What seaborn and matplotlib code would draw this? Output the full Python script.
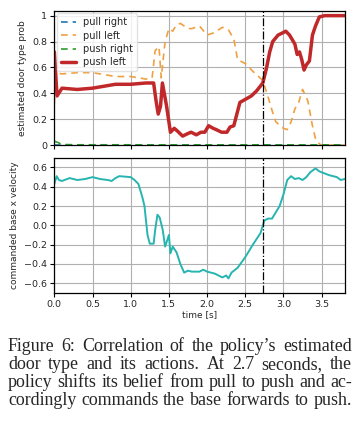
import numpy as np
import pandas as pd
import matplotlib
matplotlib.use("Agg")
import matplotlib.pyplot as plt
import seaborn as sns

# push left (red, solid)
t_push_left = [0.0, 0.035, 0.1, 0.3, 0.5, 0.7, 0.8, 1.0, 1.2, 1.3, 1.33, 1.36, 1.39, 1.415,
               1.47, 1.52, 1.57, 1.61, 1.68, 1.75, 1.79, 1.86, 1.92, 1.97, 2.02, 2.08, 2.12,
               2.19, 2.26, 2.3, 2.35, 2.39, 2.43, 2.49, 2.58, 2.65, 2.73, 2.78, 2.82, 2.86,
               2.93, 3.0, 3.03, 3.08, 3.15, 3.18, 3.21, 3.24, 3.27, 3.3, 3.34, 3.38, 3.42,
               3.47, 3.54, 3.8]
p_push_left = [0.72, 0.38, 0.44, 0.43, 0.44, 0.46, 0.47, 0.47, 0.48, 0.48, 0.35, 0.24, 0.3, 0.48,
               0.3, 0.1, 0.13, 0.11, 0.07, 0.09, 0.1, 0.08, 0.1, 0.1, 0.15, 0.13, 0.12,
               0.1, 0.1, 0.14, 0.15, 0.24, 0.33, 0.35, 0.38, 0.42, 0.48, 0.6, 0.72, 0.8,
               0.85, 0.87, 0.88, 0.85, 0.78, 0.7, 0.72, 0.66, 0.58, 0.62, 0.65, 0.85, 0.92,
               0.99, 1.0, 1.0]

# pull left (orange, dashed)
t_pull_left = [0.0, 0.02, 0.1, 0.3, 0.5, 0.7, 0.8, 1.0, 1.2, 1.28, 1.32, 1.37, 1.4, 1.45,
               1.5, 1.55, 1.6, 1.65, 1.75, 1.8, 1.9, 2.0, 2.1, 2.2, 2.28, 2.35, 2.4, 2.5,
               2.6, 2.73, 2.8, 2.85, 2.9, 3.0, 3.05, 3.1, 3.15, 3.2, 3.25, 3.3, 3.32, 3.38,
               3.42, 3.47, 3.5, 3.8]
p_pull_left = [0.32, 0.56, 0.55, 0.56, 0.56, 0.54, 0.53, 0.53, 0.51, 0.52, 0.73, 0.76, 0.52, 0.8,
               0.9, 0.88, 0.93, 0.94, 0.9, 0.9, 0.92, 0.85, 0.87, 0.91, 0.89, 0.82, 0.66, 0.63,
               0.57, 0.5, 0.37, 0.27, 0.18, 0.13, 0.12, 0.18, 0.28, 0.33, 0.43, 0.37, 0.34, 0.15,
               0.05, 0.01, 0.0, 0.0]

# pull right / push right (near zero)
t_right = [0.0, 0.05, 0.1, 0.3, 3.8]
p_pull_right = [0.0, 0.0, 0.0, 0.0, 0.0]
p_push_right = [0.03, 0.02, 0.005, 0.003, 0.002]

# commanded base x velocity
t_vel = [0.0, 0.03, 0.06, 0.1, 0.2, 0.3, 0.4, 0.5, 0.6, 0.7, 0.75, 0.8, 0.85, 1.0, 1.05,
         1.1, 1.15, 1.18, 1.22, 1.25, 1.3, 1.32, 1.35, 1.38, 1.42, 1.45, 1.48, 1.5, 1.52,
         1.55, 1.6, 1.65, 1.7, 1.75, 1.8, 1.9, 1.95, 2.0, 2.1, 2.2, 2.25, 2.28, 2.32, 2.4,
         2.5, 2.6, 2.7, 2.75, 2.8, 2.85, 2.95, 3.0, 3.05, 3.1, 3.15, 3.2, 3.25, 3.3, 3.35,
         3.42, 3.47, 3.5, 3.6, 3.7, 3.75, 3.8]
v_base = [0.43, 0.51, 0.47, 0.46, 0.49, 0.47, 0.48, 0.5, 0.48, 0.47, 0.46, 0.49, 0.51, 0.5, 0.47,
          0.43, 0.3, 0.2, -0.1, -0.19, -0.19, -0.05, 0.11, 0.08, -0.05, -0.22, -0.15, -0.1, -0.29,
          -0.22, -0.28, -0.4, -0.49, -0.47, -0.48, -0.48, -0.46, -0.48, -0.5, -0.54, -0.52, -0.55, -0.49, -0.44,
          -0.33, -0.2, -0.08, 0.05, 0.07, 0.07, 0.2, 0.32, 0.47, 0.51, 0.48, 0.49, 0.47, 0.5, 0.55,
          0.59, 0.56, 0.55, 0.52, 0.5, 0.47, 0.48]

switch_time = 2.73

caption = [
    "Figure 6:  Correlation of the policy\u2019s estimated",
    "door type and its actions.  At 2.7 seconds, the",
    "policy shifts its belief from pull to push and ac-",
    "cordingly commands the base forwards to push.",
]

sns.set_style("whitegrid", {"grid.color": "#b0b0b0", "axes.edgecolor": "black",
                            "xtick.bottom": True, "ytick.left": True})
plt.rcParams["font.family"] = ["DejaVu Sans"]

fig = plt.figure(figsize=(3.6, 4.22), dpi=100)
ax1 = fig.add_axes([0.151, 0.656, 0.806, 0.318])
ax2 = fig.add_axes([0.151, 0.306, 0.806, 0.32])

sns.lineplot(x=t_right, y=p_pull_right, ax=ax1, color="#1f77b4", lw=1.2,
             linestyle=(0, (4, 3)), label="pull right")
sns.lineplot(x=t_pull_left, y=p_pull_left, ax=ax1, color="#f0a040", lw=1.2,
             linestyle=(0, (4, 3)), label="pull left")
sns.lineplot(x=t_right, y=p_push_right, ax=ax1, color="#2ca02c", lw=1.2,
             linestyle=(0, (4, 3)), label="push right")
sns.lineplot(x=t_push_left, y=p_push_left, ax=ax1, color="#c0282a", lw=2.5,
             label="push left")
ax1.axvline(switch_time, color="black", lw=0.9, linestyle="-.")
ax1.set_xlim(0, 3.8)
ax1.set_ylim(0, 1.036)
ax1.set_yticks([0, 0.2, 0.4, 0.6, 0.8, 1])
ax1.set_yticklabels(["0", "0.2", "0.4", "0.6", "0.8", "1"])
ax1.set_xticks(np.arange(0, 3.81, 0.5))
ax1.set_xticklabels([])
ax1.set_ylabel("estimated door type prob", fontsize=6.5)
leg = ax1.legend(loc="upper left", fontsize=7, handlelength=1.6, frameon=True,
                 borderaxespad=0.25, labelspacing=0.35, borderpad=0.4, handletextpad=0.7)
leg.get_frame().set_edgecolor("#dddddd")

sns.lineplot(x=t_vel, y=v_base, ax=ax2, color="#26b5b0", lw=1.4)
ax2.axvline(switch_time, color="black", lw=0.9, linestyle="-.")
ax2.set_xlim(0, 3.8)
ax2.set_ylim(-0.7, 0.7)
ax2.set_yticks([-0.6, -0.4, -0.2, 0.0, 0.2, 0.4, 0.6])
ax2.set_xticks(np.arange(0, 3.81, 0.5))
ax2.yaxis.set_major_formatter(matplotlib.ticker.StrMethodFormatter("{x:.1f}"))
ax2.set_ylabel("commanded base x velocity", fontsize=6.5)
ax2.set_xlabel("time [s]", fontsize=6.5, labelpad=1)

for ax in (ax1, ax2):
    ax.tick_params(labelsize=6.8, length=3, width=0.8, pad=2, color="black")
    ax.grid(True, lw=0.8)
    for s in ax.spines.values():
        s.set_linewidth(0.9)

# justified caption
fig.canvas.draw()
renderer = fig.canvas.get_renderer()
left, right = 8 / 360, 352 / 360
y0 = 1 - 351 / 422
dy = 18.0 / 422
fprops = dict(fontsize=12.9, family="Liberation Serif", va="baseline", ha="left")
for i, line in enumerate(caption):
    y = y0 - i * dy
    words = line.split()
    widths = []
    for w in words:
        tt = fig.text(0, 0, w, **fprops)
        bb = tt.get_window_extent(renderer)
        widths.append(bb.width / fig.bbox.width)
        tt.remove()
    gap = (right - left - sum(widths)) / (len(words) - 1)
    x = left
    for w, wd in zip(words, widths):
        fig.text(x, y, w, **fprops)
        x += wd + gap

fig.savefig("out.png", dpi=100)
